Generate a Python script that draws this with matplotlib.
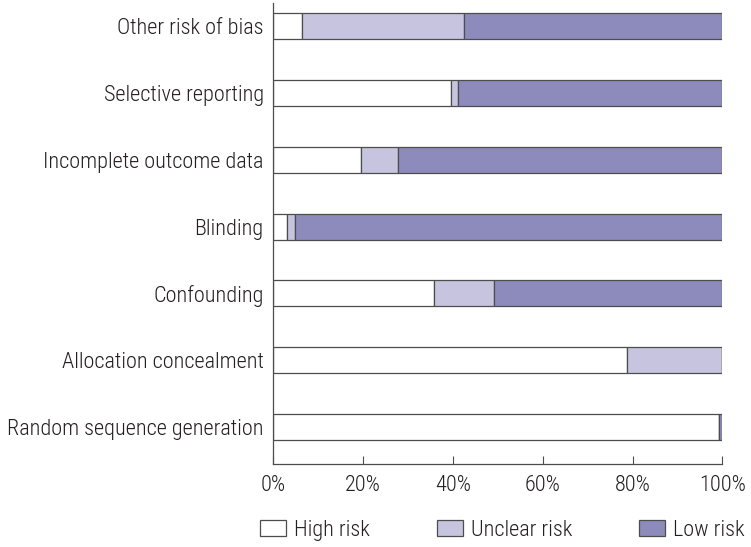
import matplotlib.pyplot as plt
from matplotlib.patches import Patch
import numpy as np

# Risk of bias domains (top to bottom in the chart)
domains = ["Other risk of bias", "Selective reporting", "Incomplete outcome data",
           "Blinding", "Confounding", "Allocation concealment",
           "Random sequence generation"]
high_risk = [6.3, 39.5, 19.6, 3.1, 35.8, 78.8, 99.3]
unclear_risk = [36.2, 1.7, 8.2, 1.7, 13.4, 21.2, 0.0]
low_risk = [57.5, 58.8, 72.2, 95.2, 50.8, 0.0, 0.7]

series_names = ["High risk", "Unclear risk", "Low risk"]
colors = ["#ffffff", "#c6c4de", "#8d8bbc"]

plt.rcParams['font.family'] = ['Roboto Condensed', 'Archivo Narrow', 'DejaVu Sans']
text_color = "#231f20"
fs = 16

fig = plt.figure(figsize=(7.51, 5.47), dpi=100)
ax = fig.add_axes([0.364, 0.152, 0.598, 0.843])

y = np.arange(len(domains))[::-1]
left = np.zeros(len(domains))
for vals, name, c in zip([high_risk, unclear_risk, low_risk], series_names, colors):
    vals = np.array(vals)
    ax.barh(y, vals, left=left, height=0.39, color=c, edgecolor="#4d4d4d",
            linewidth=0.9, label=name)
    left += vals

ax.set_xlim(0, 100)
ax.set_ylim(-0.55, 6.35)
ax.set_yticks(y)
ax.set_yticklabels(domains, fontsize=fs, color=text_color, fontweight="light")
ax.set_xticks([0, 20, 40, 60, 80, 100])
ax.set_xticklabels([f"{v}%" for v in [0, 20, 40, 60, 80, 100]], fontsize=fs,
                   color=text_color, fontweight="light")
ax.tick_params(axis="y", length=0, pad=7)
ax.tick_params(axis="x", direction="in", length=6, width=0.8, color="#4d4d4d", pad=8)

for s in ["top", "right"]:
    ax.spines[s].set_visible(False)
for s in ["left", "bottom"]:
    ax.spines[s].set_color("#4d4d4d")
    ax.spines[s].set_linewidth(0.9)

handles = [Patch(facecolor=c, edgecolor="#4d4d4d", linewidth=0.9) for c in colors]
leg = fig.legend(handles, series_names, loc="center", bbox_to_anchor=(0.669, 0.031), ncol=3,
                 frameon=False, prop={"size": fs, "weight": "light"}, handlelength=1.17,
                 handleheight=0.77, columnspacing=3.0, handletextpad=0.36,
                 labelcolor=text_color)

fig.savefig("out.png", dpi=100)
